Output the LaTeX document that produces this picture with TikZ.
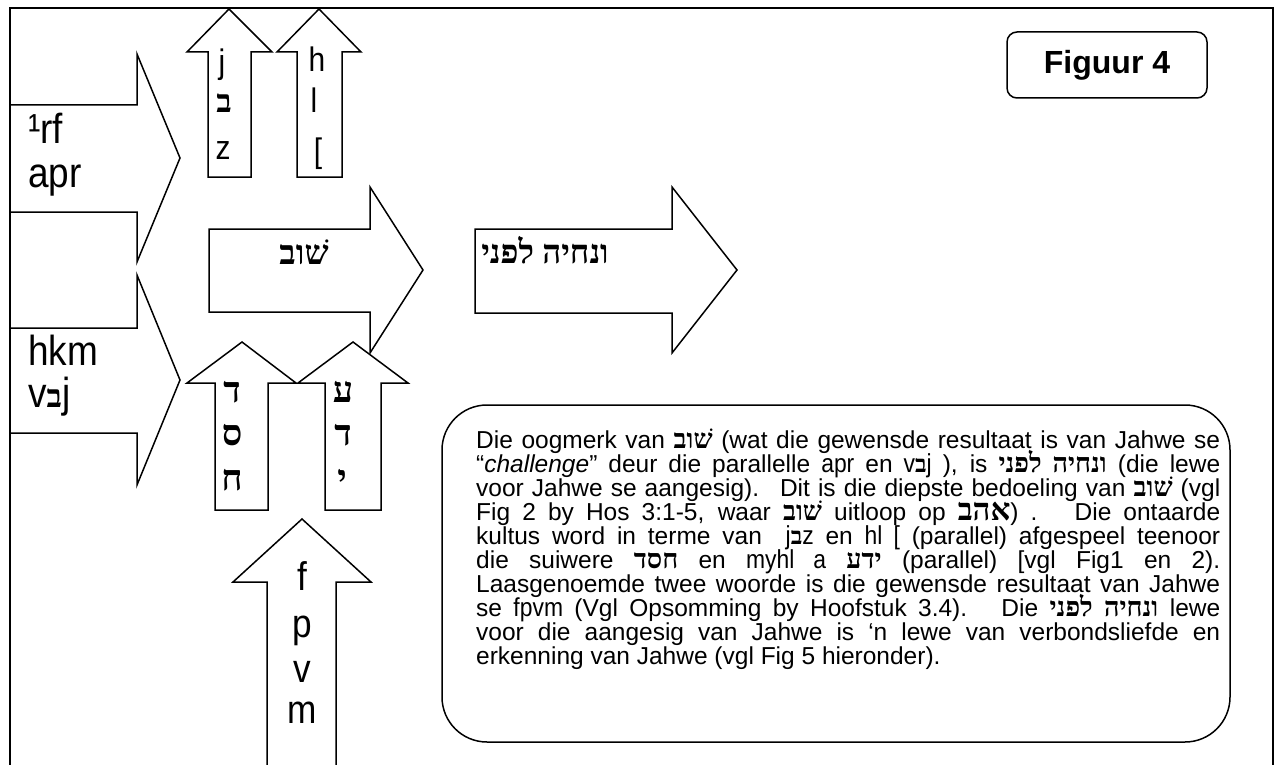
\documentclass[tikz,border=0pt]{standalone}
\usepackage{fontspec}
\setmainfont{Liberation Sans}
\newfontfamily\hebfont[Script=Hebrew]{Liberation Serif}
\newfontfamily\legfont[FakeStretch=0.88]{Liberation Sans}
\TeXXeTstate=1
\newcommand\setpx[1]{\fontsize{#1}{#1}\selectfont}
\newcommand\hb{\hebfont\bfseries\fontsize{27}{24}\selectfont}
\newcommand\bet[1]{{\hebfont\bfseries\fontsize{#1}{#1}\selectfont ב}}
\newcommand\legs{\legfont\fontsize{26}{24}\selectfont}
\newlength\tw
\setlength\tw{744pt}
\newcommand\jline[1]{\hbox to\tw{#1}}

\begin{document}
\begin{tikzpicture}[x=1pt,y=-1pt,
  arrowshape/.style={draw, line width=1.5pt, fill=white, line join=miter},
  frameline/.style={line width=2pt},
  lbl/.style={inner sep=0pt, anchor=base},
  legbig/.style={lbl, font=\legfont\setpx{42}},
  legmid/.style={lbl, font=\legfont\setpx{34}},
  legvert/.style={lbl, font=\legfont\setpx{40}},
  hebvert/.style={lbl, font=\hebfont\bfseries\setpx{36}}]
\useasboundingbox (0,0) rectangle (1282,765);

% outer frame (open at the bottom)
\draw[frameline] (10,800) -- (10,8) -- (1273,8) -- (1273,800);

% arrows pointing right from the left edge
\draw[arrowshape] (10,105) -- (137,105) -- (137,54) -- (180,158) -- (137,262) -- (137,212) -- (10,212) -- cycle;
\draw[arrowshape] (10,328) -- (137,328) -- (137,275) -- (180,380) -- (137,485) -- (137,433) -- (10,433) -- cycle;

% upward arrows at the top
\draw[arrowshape] (208,177) -- (208,52) -- (187,52) -- (229,9) -- (272,52) -- (251,52) -- (251,177) -- cycle;
\draw[arrowshape] (297,177) -- (297,52) -- (277,52) -- (319,9) -- (361,52) -- (342,52) -- (342,177) -- cycle;

% central right arrows
\draw[arrowshape] (209,229) -- (370,229) -- (370,187) -- (423,270) -- (370,353) -- (370,312) -- (209,312) -- cycle;
\draw[arrowshape] (475,229) -- (672,229) -- (672,187) -- (737,270) -- (672,353) -- (672,313) -- (475,313) -- cycle;

% upward arrows below
\draw[arrowshape] (215,510) -- (215,383) -- (187,383) -- (242,342) -- (296,383) -- (268,383) -- (268,510) -- cycle;
\draw[arrowshape] (325,510) -- (325,383) -- (298,383) -- (353,342) -- (408,383) -- (381,383) -- (381,510) -- cycle;
\draw[arrowshape] (267,800) -- (267,582) -- (233,582) -- (302,519) -- (371,582) -- (336,582) -- (336,800) -- cycle;

% labels of the left arrows
\node[legbig, anchor=base west] (a1top) at (28,143) {¹rf};
\node[legbig, anchor=base west] (a1bot) at (28,187) {apr};
\node[legbig, anchor=base west] (a2top) at (28,365) {hkm};
\node[legbig, anchor=base west] (a2bot) at (28,407) {v\bet{32}j};

% letters in the top upward arrows
\node[legmid] (ua1) at (222,74) {j};
\node[lbl] (ua2) at (224,113) {\bet{32}};
\node[legmid] (ua3) at (223,159) {z};
\node[legmid] (ub1) at (317,72) {h};
\node[legmid] (ub2) at (314,113) {l};
\node[legmid] (ub3) at (318,162) {[};

% letters in the lower upward arrows
\node[hebvert] (uc1) at (232,402) {ד};
\node[hebvert] (uc2) at (232,445) {ס};
\node[hebvert] (uc3) at (232,490) {ח};
\node[hebvert] (ud1) at (343,402) {ע};
\node[hebvert] (ud2) at (343,445) {ד};
\node[hebvert] (ud3) at (342,490) {י};
\node[legvert] (ue1) at (302,590) {f};
\node[legvert] (ue2) at (302,637) {p};
\node[legvert] (ue3) at (302,682) {v};
\node[legvert] (ue4) at (302,723) {m};

% labels of the central arrows
\node[lbl, font=\hebfont\bfseries\setpx{34}] (shuv) at (304,264) {\beginR שׁוב\endR};
\node[lbl, font=\hebfont\bfseries\setpx{33}] (venichye) at (545,263) {\beginR ונחיה לפני\endR};

% title box
\node[draw, line width=1.5pt, rounded corners=10pt, minimum width=200pt, minimum height=66pt,
      font=\bfseries\setpx{32}] (title) at (1107,65) {Figuur 4};

% explanatory text box
\node[draw, line width=1.5pt, rounded corners=45pt, minimum width=788pt, minimum height=337pt,
      inner sep=0pt] (note) at (836,573.5) {};
\node[inner sep=0pt, anchor=base west, font=\fontsize{24.5}{24}\selectfont] (notetext) at (476,448) {%
\lineskiplimit=-100pt
\vtop{%
\jline{Die oogmerk van {\hb\beginR שׁוב\endR} (wat die gewensde resultaat is van Jahwe se}
\jline{“\textit{challenge}” deur die parallelle {\legs apr} en {\legs v\bet{24}j} ), is {\hb\beginR ונחיה לפני\endR} (die lewe}
\jline{voor Jahwe se aangesig). \ Dit is die diepste bedoeling van {\hb\beginR שׁוב\endR} (vgl}
\jline{Fig 2 by Hos 3:1-5, waar {\hb\beginR שׁוב\endR} uitloop op {\hebfont\bfseries\fontsize{31}{24}\selectfont\beginR אהב\endR}) . \ Die ontaarde}
\jline{kultus word in terme van \ {\legs j\bet{24}z} en {\legs hl [} (parallel) afgespeel teenoor}
\jline{die suiwere {\hb\beginR חסד\endR} en {\legs myhl a} {\hb\beginR ידע\endR} (parallel) [vgl Fig1 en 2).}
\jline{Laasgenoemde twee woorde is die gewensde resultaat van Jahwe}
\jline{se {\legs fpvm} (Vgl Opsomming by Hoofstuk 3.4). \ Die {\hb\beginR ונחיה לפני\endR} lewe}
\jline{voor die aangesig van Jahwe is ‘n lewe van verbondsliefde en}
\hbox{erkenning van Jahwe (vgl Fig 5 hieronder).}}};
\end{tikzpicture}
\end{document}
